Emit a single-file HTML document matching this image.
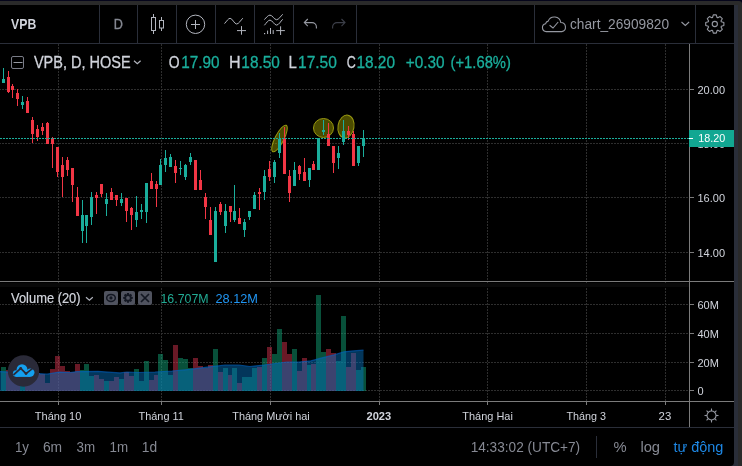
<!DOCTYPE html><html><head><meta charset="utf-8"><title>VPB chart</title><style>html,body{margin:0;padding:0;background:#05051a;width:742px;height:466px;overflow:hidden}svg{display:block}text{font-family:"Liberation Sans",Arial,sans-serif}</style></head><body>
<svg width="742" height="466" viewBox="0 0 742 466" shape-rendering="crispEdges">
<rect x="-10" y="1" width="752" height="475" rx="3" fill="#2a2a2a" shape-rendering="auto"/>
<rect x="0" y="5" width="738" height="461" fill="#2a2e39"/>
<path d="M0 5H734V462a4 4 0 0 1 -4 4H0Z" fill="#000" shape-rendering="auto"/>
<rect x="99" y="5" width="1" height="38" fill="#2a2e39"/>
<rect x="137" y="5" width="1" height="38" fill="#2a2e39"/>
<rect x="176" y="5" width="1" height="38" fill="#2a2e39"/>
<rect x="215" y="5" width="1" height="38" fill="#2a2e39"/>
<rect x="254" y="5" width="1" height="38" fill="#2a2e39"/>
<rect x="293" y="5" width="1" height="38" fill="#2a2e39"/>
<rect x="356" y="5" width="1" height="38" fill="#2a2e39"/>
<rect x="534" y="5" width="1" height="38" fill="#2a2e39"/>
<rect x="695" y="5" width="1" height="38" fill="#2a2e39"/>
<rect x="0" y="43" width="734" height="1" fill="#2a2e39"/>
<line x1="0" y1="89.5" x2="689" y2="89.5" stroke="#2e2e2e" stroke-dasharray="2 1" stroke-dashoffset="1"/>
<line x1="0" y1="143.5" x2="689" y2="143.5" stroke="#2e2e2e" stroke-dasharray="2 1" stroke-dashoffset="1"/>
<line x1="0" y1="197.5" x2="689" y2="197.5" stroke="#2e2e2e" stroke-dasharray="2 1" stroke-dashoffset="1"/>
<line x1="0" y1="252.5" x2="689" y2="252.5" stroke="#2e2e2e" stroke-dasharray="2 1" stroke-dashoffset="1"/>
<line x1="0" y1="304.5" x2="689" y2="304.5" stroke="#2e2e2e" stroke-dasharray="2 1" stroke-dashoffset="1"/>
<line x1="0" y1="333.5" x2="689" y2="333.5" stroke="#2e2e2e" stroke-dasharray="2 1" stroke-dashoffset="1"/>
<line x1="0" y1="362.5" x2="689" y2="362.5" stroke="#2e2e2e" stroke-dasharray="2 1" stroke-dashoffset="1"/>
<line x1="0" y1="390.5" x2="689" y2="390.5" stroke="#2e2e2e" stroke-dasharray="2 1" stroke-dashoffset="1"/>
<line x1="58.5" y1="44" x2="58.5" y2="281" stroke="#2e2e2e" stroke-dasharray="2 1"/>
<line x1="58.5" y1="282" x2="58.5" y2="401" stroke="#2e2e2e" stroke-dasharray="2 1"/>
<line x1="161.5" y1="44" x2="161.5" y2="281" stroke="#2e2e2e" stroke-dasharray="2 1"/>
<line x1="161.5" y1="282" x2="161.5" y2="401" stroke="#2e2e2e" stroke-dasharray="2 1"/>
<line x1="270.5" y1="44" x2="270.5" y2="281" stroke="#2e2e2e" stroke-dasharray="2 1"/>
<line x1="270.5" y1="282" x2="270.5" y2="401" stroke="#2e2e2e" stroke-dasharray="2 1"/>
<line x1="379.5" y1="44" x2="379.5" y2="281" stroke="#2e2e2e" stroke-dasharray="2 1"/>
<line x1="379.5" y1="282" x2="379.5" y2="401" stroke="#2e2e2e" stroke-dasharray="2 1"/>
<line x1="487.5" y1="44" x2="487.5" y2="281" stroke="#2e2e2e" stroke-dasharray="2 1"/>
<line x1="487.5" y1="282" x2="487.5" y2="401" stroke="#2e2e2e" stroke-dasharray="2 1"/>
<line x1="586.5" y1="44" x2="586.5" y2="281" stroke="#2e2e2e" stroke-dasharray="2 1"/>
<line x1="586.5" y1="282" x2="586.5" y2="401" stroke="#2e2e2e" stroke-dasharray="2 1"/>
<line x1="665.5" y1="44" x2="665.5" y2="281" stroke="#2e2e2e" stroke-dasharray="2 1"/>
<line x1="665.5" y1="282" x2="665.5" y2="401" stroke="#2e2e2e" stroke-dasharray="2 1"/>
<rect x="1" y="367" width="5" height="24" fill="rgba(16,160,116,0.5)"/>
<rect x="6" y="370" width="4" height="21" fill="rgba(210,50,76,0.5)"/>
<rect x="10" y="372" width="5" height="19" fill="rgba(210,50,76,0.5)"/>
<rect x="15" y="372" width="5" height="19" fill="rgba(210,50,76,0.5)"/>
<rect x="20" y="375" width="5" height="16" fill="rgba(16,160,116,0.5)"/>
<rect x="25" y="372" width="5" height="19" fill="rgba(210,50,76,0.5)"/>
<rect x="30" y="370" width="5" height="21" fill="rgba(210,50,76,0.5)"/>
<rect x="35" y="373" width="5" height="18" fill="rgba(210,50,76,0.5)"/>
<rect x="40" y="374" width="5" height="17" fill="rgba(210,50,76,0.5)"/>
<rect x="45" y="383" width="5" height="8" fill="rgba(210,50,76,0.5)"/>
<rect x="50" y="369" width="5" height="22" fill="rgba(210,50,76,0.5)"/>
<rect x="55" y="356" width="5" height="35" fill="rgba(210,50,76,0.5)"/>
<rect x="60" y="366" width="5" height="25" fill="rgba(210,50,76,0.5)"/>
<rect x="65" y="371" width="5" height="20" fill="rgba(210,50,76,0.5)"/>
<rect x="70" y="372" width="5" height="19" fill="rgba(210,50,76,0.5)"/>
<rect x="75" y="364" width="5" height="27" fill="rgba(210,50,76,0.5)"/>
<rect x="80" y="370" width="4" height="21" fill="rgba(16,160,116,0.5)"/>
<rect x="84" y="364" width="5" height="27" fill="rgba(16,160,116,0.5)"/>
<rect x="89" y="376" width="5" height="15" fill="rgba(16,160,116,0.5)"/>
<rect x="94" y="375" width="5" height="16" fill="rgba(210,50,76,0.5)"/>
<rect x="99" y="379" width="5" height="12" fill="rgba(210,50,76,0.5)"/>
<rect x="104" y="381" width="5" height="10" fill="rgba(16,160,116,0.5)"/>
<rect x="109" y="381" width="5" height="10" fill="rgba(210,50,76,0.5)"/>
<rect x="114" y="377" width="5" height="14" fill="rgba(210,50,76,0.5)"/>
<rect x="119" y="379" width="5" height="12" fill="rgba(16,160,116,0.5)"/>
<rect x="124" y="372" width="5" height="19" fill="rgba(210,50,76,0.5)"/>
<rect x="129" y="376" width="5" height="15" fill="rgba(210,50,76,0.5)"/>
<rect x="134" y="369" width="5" height="22" fill="rgba(16,160,116,0.5)"/>
<rect x="139" y="381" width="5" height="10" fill="rgba(16,160,116,0.5)"/>
<rect x="144" y="361" width="5" height="30" fill="rgba(16,160,116,0.5)"/>
<rect x="149" y="380" width="5" height="11" fill="rgba(210,50,76,0.5)"/>
<rect x="154" y="375" width="4" height="16" fill="rgba(210,50,76,0.5)"/>
<rect x="158" y="354" width="5" height="37" fill="rgba(16,160,116,0.5)"/>
<rect x="163" y="360" width="5" height="31" fill="rgba(16,160,116,0.5)"/>
<rect x="168" y="375" width="5" height="16" fill="rgba(16,160,116,0.5)"/>
<rect x="173" y="345" width="5" height="46" fill="rgba(210,50,76,0.5)"/>
<rect x="178" y="358" width="5" height="33" fill="rgba(16,160,116,0.5)"/>
<rect x="183" y="359" width="5" height="32" fill="rgba(16,160,116,0.5)"/>
<rect x="188" y="368" width="5" height="23" fill="rgba(16,160,116,0.5)"/>
<rect x="193" y="358" width="5" height="33" fill="rgba(210,50,76,0.5)"/>
<rect x="198" y="366" width="5" height="25" fill="rgba(210,50,76,0.5)"/>
<rect x="203" y="368" width="5" height="23" fill="rgba(210,50,76,0.5)"/>
<rect x="208" y="365" width="5" height="26" fill="rgba(210,50,76,0.5)"/>
<rect x="213" y="349" width="5" height="42" fill="rgba(16,160,116,0.5)"/>
<rect x="218" y="372" width="5" height="19" fill="rgba(210,50,76,0.5)"/>
<rect x="223" y="368" width="5" height="23" fill="rgba(16,160,116,0.5)"/>
<rect x="228" y="375" width="4" height="16" fill="rgba(210,50,76,0.5)"/>
<rect x="232" y="368" width="5" height="23" fill="rgba(16,160,116,0.5)"/>
<rect x="237" y="383" width="5" height="8" fill="rgba(210,50,76,0.5)"/>
<rect x="242" y="377" width="5" height="14" fill="rgba(16,160,116,0.5)"/>
<rect x="247" y="377" width="5" height="14" fill="rgba(16,160,116,0.5)"/>
<rect x="252" y="368" width="5" height="23" fill="rgba(16,160,116,0.5)"/>
<rect x="257" y="367" width="5" height="24" fill="rgba(210,50,76,0.5)"/>
<rect x="262" y="358" width="5" height="33" fill="rgba(16,160,116,0.5)"/>
<rect x="267" y="347" width="5" height="44" fill="rgba(210,50,76,0.5)"/>
<rect x="272" y="354" width="5" height="37" fill="rgba(16,160,116,0.5)"/>
<rect x="277" y="329" width="5" height="62" fill="rgba(16,160,116,0.5)"/>
<rect x="282" y="342" width="5" height="49" fill="rgba(210,50,76,0.5)"/>
<rect x="287" y="354" width="5" height="37" fill="rgba(210,50,76,0.5)"/>
<rect x="292" y="349" width="5" height="42" fill="rgba(16,160,116,0.5)"/>
<rect x="297" y="371" width="5" height="20" fill="rgba(210,50,76,0.5)"/>
<rect x="302" y="358" width="5" height="33" fill="rgba(210,50,76,0.5)"/>
<rect x="307" y="365" width="4" height="26" fill="rgba(16,160,116,0.5)"/>
<rect x="311" y="364" width="5" height="27" fill="rgba(210,50,76,0.5)"/>
<rect x="316" y="295" width="5" height="96" fill="rgba(16,160,116,0.5)"/>
<rect x="321" y="352" width="5" height="39" fill="rgba(16,160,116,0.5)"/>
<rect x="326" y="349" width="5" height="42" fill="rgba(210,50,76,0.5)"/>
<rect x="331" y="353" width="5" height="38" fill="rgba(210,50,76,0.5)"/>
<rect x="336" y="361" width="5" height="30" fill="rgba(16,160,116,0.5)"/>
<rect x="341" y="316" width="5" height="75" fill="rgba(16,160,116,0.5)"/>
<rect x="346" y="367" width="5" height="24" fill="rgba(210,50,76,0.5)"/>
<rect x="351" y="353" width="5" height="38" fill="rgba(210,50,76,0.5)"/>
<rect x="356" y="370" width="5" height="21" fill="rgba(16,160,116,0.5)"/>
<rect x="361" y="367" width="5" height="24" fill="rgba(16,160,116,0.5)"/>
<polygon points="0,391 0,371.6 35,373.3 47,374.2 59,372.1 70,372.5 77,371.6 98,371.3 112,372.4 120,372.9 127,372 138,372.5 155,372 172,371 190,369.4 207,367.1 218,365.9 225,365 239,365 250,366.5 264,365 287,362 299,362 311,360.8 320,358.4 334,354.9 344,351.8 353,350.9 363.5,350.2 363.5,391" fill="rgba(7,118,199,0.457)" shape-rendering="auto"/>
<polyline points="0,371.6 35,373.3 47,374.2 59,372.1 70,372.5 77,371.6 98,371.3 112,372.4 120,372.9 127,372 138,372.5 155,372 172,371 190,369.4 207,367.1 218,365.9 225,365 239,365 250,366.5 264,365 287,362 299,362 311,360.8 320,358.4 334,354.9 344,351.8 353,350.9 363.5,350.2" fill="none" stroke="rgba(0,100,200,0.6)" stroke-width="1.2" shape-rendering="auto"/>
<g shape-rendering="auto" fill="rgba(190,190,0,0.4)" stroke="#9a9a10" stroke-width="1">
<ellipse cx="279.5" cy="138.5" rx="4.4" ry="14.8" transform="rotate(27 279.5 138.5)"/>
<ellipse cx="323.5" cy="128" rx="10" ry="9.5"/>
<ellipse cx="346" cy="126.5" rx="8" ry="11.5" transform="rotate(10 346 126.5)"/>
</g>
<rect x="3" y="67.9" width="1" height="14.8" fill="#1aae9c"/>
<rect x="2" y="78.8" width="3" height="3.9" fill="#1aae9c"/>
<rect x="8" y="71.1" width="1" height="21.7" fill="#f23645"/>
<rect x="7" y="76.9" width="3" height="15.4" fill="#f23645"/>
<rect x="12" y="84.0" width="1" height="13.7" fill="#f23645"/>
<rect x="11" y="85.9" width="3" height="4.1" fill="#f23645"/>
<rect x="17" y="89.1" width="1" height="16.7" fill="#f23645"/>
<rect x="16" y="93.0" width="3" height="5.8" fill="#f23645"/>
<rect x="22" y="95.9" width="1" height="12.9" fill="#1aae9c"/>
<rect x="21" y="102.0" width="3" height="3.0" fill="#1aae9c"/>
<rect x="27" y="96.8" width="1" height="16.2" fill="#f23645"/>
<rect x="26" y="100.7" width="3" height="12.2" fill="#f23645"/>
<rect x="32" y="116.9" width="1" height="25.7" fill="#f23645"/>
<rect x="31" y="120.0" width="3" height="14.0" fill="#f23645"/>
<rect x="37" y="125.0" width="1" height="15.5" fill="#f23645"/>
<rect x="36" y="129.0" width="3" height="8.3" fill="#f23645"/>
<rect x="42" y="123.1" width="1" height="11.9" fill="#f23645"/>
<rect x="41" y="126.9" width="3" height="3.9" fill="#f23645"/>
<rect x="47" y="122.0" width="1" height="21.6" fill="#f23645"/>
<rect x="46" y="122.6" width="3" height="21.0" fill="#f23645"/>
<rect x="52" y="137.3" width="1" height="30.7" fill="#f23645"/>
<rect x="51" y="138.3" width="3" height="5.6" fill="#f23645"/>
<rect x="57" y="146.6" width="1" height="30.1" fill="#f23645"/>
<rect x="56" y="146.6" width="3" height="25.0" fill="#f23645"/>
<rect x="62" y="156.5" width="1" height="40.5" fill="#f23645"/>
<rect x="61" y="165.0" width="3" height="11.7" fill="#f23645"/>
<rect x="67" y="157.4" width="1" height="18.6" fill="#f23645"/>
<rect x="66" y="159.5" width="3" height="10.5" fill="#f23645"/>
<rect x="72" y="168.0" width="1" height="33.6" fill="#f23645"/>
<rect x="71" y="168.0" width="3" height="16.5" fill="#f23645"/>
<rect x="77" y="186.9" width="1" height="29.0" fill="#f23645"/>
<rect x="76" y="197.2" width="3" height="18.7" fill="#f23645"/>
<rect x="82" y="200.2" width="1" height="42.7" fill="#1aae9c"/>
<rect x="81" y="215.2" width="3" height="15.5" fill="#1aae9c"/>
<rect x="86" y="215.2" width="1" height="27.7" fill="#1aae9c"/>
<rect x="85" y="215.2" width="3" height="10.3" fill="#1aae9c"/>
<rect x="91" y="192.1" width="1" height="32.8" fill="#1aae9c"/>
<rect x="90" y="197.2" width="3" height="19.3" fill="#1aae9c"/>
<rect x="96" y="191.7" width="1" height="21.9" fill="#f23645"/>
<rect x="95" y="195.0" width="3" height="2.7" fill="#f23645"/>
<rect x="101" y="183.6" width="1" height="13.4" fill="#f23645"/>
<rect x="100" y="183.6" width="3" height="9.9" fill="#f23645"/>
<rect x="106" y="192.9" width="1" height="22.8" fill="#1aae9c"/>
<rect x="105" y="199.2" width="3" height="4.9" fill="#1aae9c"/>
<rect x="111" y="188.0" width="1" height="11.5" fill="#f23645"/>
<rect x="110" y="191.7" width="3" height="7.8" fill="#f23645"/>
<rect x="116" y="195.0" width="1" height="11.0" fill="#f23645"/>
<rect x="115" y="195.0" width="3" height="4.5" fill="#f23645"/>
<rect x="121" y="193.0" width="1" height="12.5" fill="#1aae9c"/>
<rect x="120" y="198.6" width="3" height="4.4" fill="#1aae9c"/>
<rect x="126" y="197.7" width="1" height="24.0" fill="#f23645"/>
<rect x="125" y="197.7" width="3" height="12.9" fill="#f23645"/>
<rect x="131" y="206.6" width="1" height="23.1" fill="#f23645"/>
<rect x="130" y="208.0" width="3" height="6.7" fill="#f23645"/>
<rect x="136" y="196.0" width="1" height="30.7" fill="#1aae9c"/>
<rect x="135" y="211.7" width="3" height="7.8" fill="#1aae9c"/>
<rect x="141" y="203.6" width="1" height="15.0" fill="#1aae9c"/>
<rect x="140" y="209.6" width="3" height="2.1" fill="#1aae9c"/>
<rect x="146" y="183.3" width="1" height="39.8" fill="#1aae9c"/>
<rect x="145" y="183.3" width="3" height="28.6" fill="#1aae9c"/>
<rect x="151" y="173.0" width="1" height="15.6" fill="#f23645"/>
<rect x="150" y="181.0" width="3" height="7.6" fill="#f23645"/>
<rect x="156" y="181.0" width="1" height="25.6" fill="#f23645"/>
<rect x="155" y="184.0" width="3" height="4.6" fill="#f23645"/>
<rect x="160" y="158.5" width="1" height="26.1" fill="#1aae9c"/>
<rect x="159" y="165.4" width="3" height="19.2" fill="#1aae9c"/>
<rect x="165" y="149.5" width="1" height="22.5" fill="#1aae9c"/>
<rect x="164" y="157.6" width="3" height="7.8" fill="#1aae9c"/>
<rect x="170" y="154.0" width="1" height="12.6" fill="#1aae9c"/>
<rect x="169" y="157.0" width="3" height="9.6" fill="#1aae9c"/>
<rect x="175" y="160.0" width="1" height="22.5" fill="#f23645"/>
<rect x="174" y="166.0" width="3" height="6.6" fill="#f23645"/>
<rect x="180" y="161.0" width="1" height="14.0" fill="#1aae9c"/>
<rect x="179" y="167.5" width="3" height="1.5" fill="#1aae9c"/>
<rect x="185" y="163.6" width="1" height="15.9" fill="#1aae9c"/>
<rect x="184" y="164.5" width="3" height="12.9" fill="#1aae9c"/>
<rect x="190" y="152.5" width="1" height="12.0" fill="#1aae9c"/>
<rect x="189" y="157.0" width="3" height="4.5" fill="#1aae9c"/>
<rect x="195" y="160.0" width="1" height="29.5" fill="#f23645"/>
<rect x="194" y="160.0" width="3" height="29.5" fill="#f23645"/>
<rect x="200" y="170.0" width="1" height="20.0" fill="#f23645"/>
<rect x="199" y="179.5" width="3" height="10.5" fill="#f23645"/>
<rect x="205" y="193.0" width="1" height="25.6" fill="#f23645"/>
<rect x="204" y="196.7" width="3" height="9.9" fill="#f23645"/>
<rect x="210" y="206.6" width="1" height="27.9" fill="#f23645"/>
<rect x="209" y="219.5" width="3" height="15.0" fill="#f23645"/>
<rect x="215" y="206.6" width="1" height="54.9" fill="#1aae9c"/>
<rect x="214" y="210.5" width="3" height="51.0" fill="#1aae9c"/>
<rect x="220" y="202.0" width="1" height="12.6" fill="#f23645"/>
<rect x="219" y="204.0" width="3" height="7.6" fill="#f23645"/>
<rect x="225" y="203.7" width="1" height="29.3" fill="#1aae9c"/>
<rect x="224" y="210.6" width="3" height="15.0" fill="#1aae9c"/>
<rect x="230" y="205.5" width="1" height="16.2" fill="#f23645"/>
<rect x="229" y="206.0" width="3" height="5.5" fill="#f23645"/>
<rect x="234" y="185.0" width="1" height="36.7" fill="#1aae9c"/>
<rect x="233" y="210.6" width="3" height="9.0" fill="#1aae9c"/>
<rect x="239" y="207.6" width="1" height="16.4" fill="#f23645"/>
<rect x="238" y="217.5" width="3" height="6.5" fill="#f23645"/>
<rect x="244" y="218.7" width="1" height="18.0" fill="#1aae9c"/>
<rect x="243" y="221.7" width="3" height="7.8" fill="#1aae9c"/>
<rect x="249" y="210.9" width="1" height="8.9" fill="#1aae9c"/>
<rect x="248" y="210.9" width="3" height="5.7" fill="#1aae9c"/>
<rect x="254" y="191.7" width="1" height="16.8" fill="#1aae9c"/>
<rect x="253" y="194.7" width="3" height="13.8" fill="#1aae9c"/>
<rect x="259" y="188.0" width="1" height="21.7" fill="#f23645"/>
<rect x="258" y="192.2" width="3" height="1.5" fill="#f23645"/>
<rect x="264" y="170.0" width="1" height="29.5" fill="#1aae9c"/>
<rect x="263" y="176.0" width="3" height="15.7" fill="#1aae9c"/>
<rect x="269" y="160.5" width="1" height="20.1" fill="#f23645"/>
<rect x="268" y="168.5" width="3" height="8.2" fill="#f23645"/>
<rect x="274" y="160.0" width="1" height="23.0" fill="#1aae9c"/>
<rect x="273" y="161.8" width="3" height="15.1" fill="#1aae9c"/>
<rect x="279" y="132.9" width="1" height="25.1" fill="#1aae9c"/>
<rect x="278" y="138.6" width="3" height="14.4" fill="#1aae9c"/>
<rect x="284" y="126.5" width="1" height="47.2" fill="#f23645"/>
<rect x="283" y="138.5" width="3" height="35.2" fill="#f23645"/>
<rect x="289" y="170.1" width="1" height="31.9" fill="#f23645"/>
<rect x="288" y="176.0" width="3" height="16.7" fill="#f23645"/>
<rect x="294" y="161.6" width="1" height="24.1" fill="#1aae9c"/>
<rect x="293" y="170.0" width="3" height="15.7" fill="#1aae9c"/>
<rect x="299" y="165.0" width="1" height="15.0" fill="#f23645"/>
<rect x="298" y="166.0" width="3" height="7.7" fill="#f23645"/>
<rect x="304" y="157.6" width="1" height="22.9" fill="#f23645"/>
<rect x="303" y="172.0" width="3" height="8.5" fill="#f23645"/>
<rect x="309" y="168.0" width="1" height="18.8" fill="#1aae9c"/>
<rect x="308" y="168.0" width="3" height="11.5" fill="#1aae9c"/>
<rect x="313" y="160.9" width="1" height="9.1" fill="#f23645"/>
<rect x="312" y="163.9" width="3" height="6.1" fill="#f23645"/>
<rect x="318" y="138.3" width="1" height="31.7" fill="#1aae9c"/>
<rect x="317" y="138.3" width="3" height="31.7" fill="#1aae9c"/>
<rect x="323" y="120.0" width="1" height="15.0" fill="#1aae9c"/>
<rect x="322" y="130.3" width="3" height="1.5" fill="#1aae9c"/>
<rect x="328" y="123.2" width="1" height="22.6" fill="#f23645"/>
<rect x="327" y="134.0" width="3" height="11.8" fill="#f23645"/>
<rect x="333" y="146.2" width="1" height="26.4" fill="#f23645"/>
<rect x="332" y="146.2" width="3" height="16.8" fill="#f23645"/>
<rect x="338" y="146.2" width="1" height="23.2" fill="#1aae9c"/>
<rect x="337" y="153.3" width="3" height="4.3" fill="#1aae9c"/>
<rect x="343" y="120.0" width="1" height="24.8" fill="#1aae9c"/>
<rect x="342" y="131.3" width="3" height="11.0" fill="#1aae9c"/>
<rect x="348" y="126.0" width="1" height="14.4" fill="#f23645"/>
<rect x="347" y="131.2" width="3" height="3.8" fill="#f23645"/>
<rect x="353" y="130.7" width="1" height="34.8" fill="#f23645"/>
<rect x="352" y="134.0" width="3" height="31.5" fill="#f23645"/>
<rect x="358" y="146.2" width="1" height="19.3" fill="#1aae9c"/>
<rect x="357" y="146.2" width="3" height="16.3" fill="#1aae9c"/>
<rect x="363" y="130.0" width="1" height="27.0" fill="#1aae9c"/>
<rect x="362" y="138.0" width="3" height="8.1" fill="#1aae9c"/>
<line x1="0" y1="138.5" x2="689" y2="138.5" stroke="#1aae9c" stroke-dasharray="2 1"/>
<rect x="0" y="283" width="689" height="4" fill="#090909"/>
<rect x="689" y="44" width="1" height="383" fill="#7b7b7b"/>
<rect x="0" y="281" width="734" height="1" fill="#7b7b7b"/>
<rect x="0" y="401" width="734" height="1" fill="#7b7b7b"/>
<rect x="0" y="427" width="734" height="1" fill="#2a2e39"/>
<rect x="58" y="402" width="1" height="3" fill="#7b7b7b"/>
<rect x="161" y="402" width="1" height="3" fill="#7b7b7b"/>
<rect x="270" y="402" width="1" height="3" fill="#7b7b7b"/>
<rect x="379" y="402" width="1" height="3" fill="#7b7b7b"/>
<rect x="487" y="402" width="1" height="3" fill="#7b7b7b"/>
<rect x="586" y="402" width="1" height="3" fill="#7b7b7b"/>
<rect x="665" y="402" width="1" height="3" fill="#7b7b7b"/>
<rect x="690" y="89" width="4" height="1" fill="#7b7b7b"/>
<text x="697.5" y="93.8" font-size="11" fill="#d1d4dc">20.00</text>
<rect x="690" y="143" width="4" height="1" fill="#7b7b7b"/>
<text x="697.5" y="147.8" font-size="11" fill="#d1d4dc">18.00</text>
<rect x="690" y="197" width="4" height="1" fill="#7b7b7b"/>
<text x="697.5" y="201.8" font-size="11" fill="#d1d4dc">16.00</text>
<rect x="690" y="252" width="4" height="1" fill="#7b7b7b"/>
<text x="697.5" y="256.8" font-size="11" fill="#d1d4dc">14.00</text>
<rect x="690" y="304" width="4" height="1" fill="#7b7b7b"/>
<text x="697.5" y="308.8" font-size="11" fill="#d1d4dc">60M</text>
<rect x="690" y="333" width="4" height="1" fill="#7b7b7b"/>
<text x="697.5" y="337.8" font-size="11" fill="#d1d4dc">40M</text>
<rect x="690" y="362" width="4" height="1" fill="#7b7b7b"/>
<text x="697.5" y="366.8" font-size="11" fill="#d1d4dc">20M</text>
<rect x="690" y="390" width="4" height="1" fill="#7b7b7b"/>
<text x="697.5" y="394.8" font-size="11" fill="#d1d4dc">0</text>
<rect x="689" y="130" width="45" height="17" fill="#12a792"/>
<rect x="689" y="138" width="4" height="1" fill="#fff"/>
<text x="698.28" y="141.6" font-size="11" fill="#fff" textLength="26.94" lengthAdjust="spacingAndGlyphs">18.20</text>
<text x="34.85" y="420" font-size="11" fill="#d1d4dc" textLength="46.48" lengthAdjust="spacingAndGlyphs">Tháng 10</text>
<text x="138.56" y="420" font-size="11" fill="#d1d4dc" textLength="45.26" lengthAdjust="spacingAndGlyphs">Tháng 11</text>
<text x="232.26" y="420" font-size="11" fill="#d1d4dc" textLength="77.48" lengthAdjust="spacingAndGlyphs">Tháng Mười hai</text>
<text x="366.52" y="420" font-size="11" fill="#d1d4dc" font-weight="bold" textLength="24.69" lengthAdjust="spacingAndGlyphs">2023</text>
<text x="462.25" y="420" font-size="11" fill="#d1d4dc" textLength="50.59" lengthAdjust="spacingAndGlyphs">Tháng Hai</text>
<text x="566.46" y="420" font-size="11" fill="#d1d4dc" textLength="39.52" lengthAdjust="spacingAndGlyphs">Tháng 3</text>
<text x="658.63" y="420" font-size="11" fill="#d1d4dc" textLength="12.67" lengthAdjust="spacingAndGlyphs">23</text>
<g transform="translate(711.5 415.5)" stroke="#9598a1" fill="none" stroke-width="1.1" shape-rendering="auto"><circle r="4.5"/>
<line x1="4.50" y1="0.00" x2="7.00" y2="0.00"/>
<line x1="3.18" y1="3.18" x2="4.95" y2="4.95"/>
<line x1="0.00" y1="4.50" x2="0.00" y2="7.00"/>
<line x1="-3.18" y1="3.18" x2="-4.95" y2="4.95"/>
<line x1="-4.50" y1="0.00" x2="-7.00" y2="0.00"/>
<line x1="-3.18" y1="-3.18" x2="-4.95" y2="-4.95"/>
<line x1="-0.00" y1="-4.50" x2="-0.00" y2="-7.00"/>
<line x1="3.18" y1="-3.18" x2="4.95" y2="-4.95"/>
</g>
<rect x="11.5" y="56.5" width="12" height="12" rx="1.5" fill="none" stroke="#787b86" shape-rendering="auto"/>
<rect x="13.5" y="62" width="9" height="1" fill="#9598a1" shape-rendering="auto"/>
<text x="33.94" y="68" font-size="16.8" fill="#d1d4dc" stroke="#d1d4dc" stroke-width="0.3" textLength="96.69" lengthAdjust="spacingAndGlyphs">VPB, D, HOSE</text>
<path d="M134 60.8l3.3 3 3.3-3" stroke="#b2b5be" fill="none" stroke-width="1.2" shape-rendering="auto"/>
<text x="168.74" y="68" font-size="16.8" fill="#d1d4dc" stroke="#d1d4dc" stroke-width="0.3" textLength="10.83" lengthAdjust="spacingAndGlyphs">O</text>
<text x="181.13" y="68" font-size="16.8" fill="#1aae9c" stroke="#1aae9c" stroke-width="0.3" textLength="38.37" lengthAdjust="spacingAndGlyphs">17.90</text>
<text x="228.88" y="68" font-size="16.8" fill="#d1d4dc" stroke="#d1d4dc" stroke-width="0.3" textLength="11.64" lengthAdjust="spacingAndGlyphs">H</text>
<text x="241.33" y="68" font-size="16.8" fill="#1aae9c" stroke="#1aae9c" stroke-width="0.3" textLength="38.47" lengthAdjust="spacingAndGlyphs">18.50</text>
<text x="288.47" y="68" font-size="16.8" fill="#d1d4dc" stroke="#d1d4dc" stroke-width="0.3" textLength="8.32" lengthAdjust="spacingAndGlyphs">L</text>
<text x="298.02" y="68" font-size="16.8" fill="#1aae9c" stroke="#1aae9c" stroke-width="0.3" textLength="38.89" lengthAdjust="spacingAndGlyphs">17.50</text>
<text x="346.67" y="68" font-size="16.8" fill="#d1d4dc" stroke="#d1d4dc" stroke-width="0.3" textLength="9.01" lengthAdjust="spacingAndGlyphs">C</text>
<text x="356.43" y="68" font-size="16.8" fill="#1aae9c" stroke="#1aae9c" stroke-width="0.3" textLength="38.58" lengthAdjust="spacingAndGlyphs">18.20</text>
<text x="405.75" y="68" font-size="16.8" fill="#1aae9c" stroke="#1aae9c" stroke-width="0.3" textLength="38.85" lengthAdjust="spacingAndGlyphs">+0.30</text>
<text x="450.58" y="68" font-size="16.8" fill="#1aae9c" stroke="#1aae9c" stroke-width="0.3" textLength="60.33" lengthAdjust="spacingAndGlyphs">(+1.68%)</text>
<text x="11.04" y="302.8" font-size="13.9" fill="#d1d4dc" stroke="#d1d4dc" stroke-width="0.2" textLength="69.55" lengthAdjust="spacingAndGlyphs">Volume (20)</text>
<path d="M86 297.3l3.4 3 3.4-3" stroke="#b2b5be" fill="none" stroke-width="1.2" shape-rendering="auto"/>
<rect x="104" y="291" width="14" height="14" rx="2" fill="#50535f" shape-rendering="auto"/>
<rect x="121" y="291" width="14" height="14" rx="2" fill="#50535f" shape-rendering="auto"/>
<rect x="138" y="291" width="14" height="14" rx="2" fill="#50535f" shape-rendering="auto"/>
<g shape-rendering="auto"><ellipse cx="111" cy="297.9" rx="4.3" ry="3.5" fill="none" stroke="#131722" stroke-width="1.5"/><circle cx="111" cy="297.9" r="1.6" fill="#131722"/>
<polygon points="131.01,296.55 132.80,296.93 132.80,298.87 131.01,299.25 131.08,299.08 132.08,300.61 130.71,301.98 129.18,300.98 129.35,300.91 128.97,302.70 127.03,302.70 126.65,300.91 126.82,300.98 125.29,301.98 123.92,300.61 124.92,299.08 124.99,299.25 123.20,298.87 123.20,296.93 124.99,296.55 124.92,296.72 123.92,295.19 125.29,293.82 126.82,294.82 126.65,294.89 127.03,293.10 128.97,293.10 129.35,294.89 129.18,294.82 130.71,293.82 132.08,295.19 131.08,296.72" fill="#131722" shape-rendering="auto"/><circle cx="128" cy="297.9" r="1.9" fill="#50535f" shape-rendering="auto"/>
<g shape-rendering="auto">
<path d="M141 294l8 8M149 294l-8 8" stroke="#131722" stroke-width="1.7"/></g>
<text x="160.46" y="302.7" font-size="12.9" fill="#22ab94" textLength="48.16" lengthAdjust="spacingAndGlyphs">16.707M</text>
<text x="215.46" y="302.7" font-size="12.9" fill="#2196f3" textLength="42.49" lengthAdjust="spacingAndGlyphs">28.12M</text>
<g shape-rendering="auto"><circle cx="23.5" cy="371" r="15.7" fill="#2a2a38"/>
<g fill="#14a0f0"><circle cx="16.2" cy="373.6" r="3.3"/><circle cx="22" cy="369.6" r="5.4"/><circle cx="30.3" cy="372.6" r="4.2"/><rect x="16.2" y="372" width="14.1" height="4.9"/></g>
<polyline points="13.4,375 20.7,368.4 26,373.6 33,368.2" stroke="#2a2a38" stroke-width="1.7" fill="none" stroke-linejoin="round"/>
<circle cx="20.7" cy="368.4" r="1.4" fill="#2a2a38"/><circle cx="26" cy="373.6" r="1.4" fill="#2a2a38"/>
</g>
<text x="11.12" y="29" font-size="14" fill="#d1d4dc" font-weight="bold" textLength="25.14" lengthAdjust="spacingAndGlyphs">VPB</text>
<text x="113.86" y="29" font-size="14.5" fill="#868993" stroke="#868993" stroke-width="0.35" textLength="9.14" lengthAdjust="spacingAndGlyphs">D</text>
<g stroke="#b2b5be" fill="none" stroke-width="1" shape-rendering="auto">
<path d="M153.5 14v3.5M153.5 30.5v3.5M161.5 17v3.5M161.5 28v3"/>
<rect x="151.5" y="17.5" width="4" height="13"/><rect x="159.5" y="20.5" width="4" height="7.5"/>
<circle cx="195.5" cy="24.3" r="9.2"/><path d="M191 24.5h9M195.5 20v9"/>
<path d="M224.5 23.6 C226.6 21.4 228.3 18.3 230.1 18.3 C232.4 18.3 234.3 24 236.6 24 C238.8 24 240.8 20.2 242.8 18.2"/><path d="M237 30.6h9M241.5 26.1v8.6"/>
<path d="M264.4 19.6 C266.2 17.6 268.2 15.1 270 15.1 C272.3 15.1 274.3 19.7 276.5 19.7 C278.8 19.7 280.7 16.2 282.7 14.3"/><path d="M264.4 25.3 C266.2 23.1 268.2 20.1 270 20.1 C272.3 20.1 274.3 25.1 276.5 25.1 C278.8 25.1 280.7 21.2 282.7 19.3"/>
<path d="M267.6 30.6v3.4M270.5 28v6M273.2 30.1v3.9M276.2 30.6h8.7M280.6 26.3v8.7"/>
</g><rect x="264" y="33" width="1.2" height="1.2" fill="#b2b5be"/>
<g fill="none" stroke-width="1.1" shape-rendering="auto">
<path d="M307.8 19 L304.3 22.6 L307.8 26.2 M304.3 22.6 H312 a4.4 4.4 0 0 1 4.4 4.4 V28.5" stroke="#9598a1"/>
<path d="M341.5 19 L345 22.6 L341.5 26.2 M345 22.6 H337 a4.4 4.4 0 0 0 -4.4 4.4 V28.5" stroke="#3c3f49"/>
</g>
<g fill="none" stroke="#9598a1" stroke-width="1.1" shape-rendering="auto">
<path d="M546.2 31.6 a4 4 0 0 1 -0.6-7.9 a3.6 3.6 0 0 1 2.6-2.6 a6.6 6.6 0 0 1 12.6 1.4 a4.6 4.6 0 0 1 1 9.1 Z"/>
<path d="M549.6 25.3 L553 28 L558.2 22"/>
</g>
<text x="570.02" y="28.7" font-size="14" fill="#9598a1" textLength="99.02" lengthAdjust="spacingAndGlyphs">chart_26909820</text>
<path d="M681.5 22l3.8 3.5 3.8-3.5" stroke="#9598a1" fill="none" stroke-width="1.1" shape-rendering="auto"/>
<polygon points="712.54,17.48 713.31,14.92 716.29,14.92 717.06,17.48 717.25,17.55 717.44,17.63 717.63,17.71 717.81,17.79 720.16,16.52 722.28,18.64 721.01,20.99 721.09,21.17 721.17,21.36 721.25,21.55 721.32,21.74 723.88,22.51 723.88,25.49 721.32,26.26 721.25,26.45 721.17,26.64 721.09,26.83 721.01,27.01 722.28,29.36 720.16,31.48 717.81,30.21 717.63,30.29 717.44,30.37 717.25,30.45 717.06,30.52 716.29,33.08 713.31,33.08 712.54,30.52 712.35,30.45 712.16,30.37 711.97,30.29 711.79,30.21 709.44,31.48 707.32,29.36 708.59,27.01 708.51,26.83 708.43,26.64 708.35,26.45 708.28,26.26 705.72,25.49 705.72,22.51 708.28,21.74 708.35,21.55 708.43,21.36 708.51,21.17 708.59,20.99 707.32,18.64 709.44,16.52 711.79,17.79 711.97,17.71 712.16,17.63 712.35,17.55" fill="none" stroke="#9598a1" stroke-width="1.1" stroke-linejoin="round" shape-rendering="auto"/>
<circle cx="714.8" cy="24" r="2.6" fill="none" stroke="#9598a1" stroke-width="1.1" shape-rendering="auto"/>
<text x="14.89" y="452" font-size="14" fill="#868993" textLength="14.04" lengthAdjust="spacingAndGlyphs">1y</text>
<text x="42.90" y="452" font-size="14" fill="#868993" textLength="19.21" lengthAdjust="spacingAndGlyphs">6m</text>
<text x="76.59" y="452" font-size="14" fill="#868993" textLength="18.59" lengthAdjust="spacingAndGlyphs">3m</text>
<text x="109.48" y="452" font-size="14" fill="#868993" textLength="18.60" lengthAdjust="spacingAndGlyphs">1m</text>
<text x="141.85" y="452" font-size="14" fill="#868993" textLength="15.34" lengthAdjust="spacingAndGlyphs">1d</text>
<text x="470.66" y="452" font-size="14" fill="#868993" textLength="109.48" lengthAdjust="spacingAndGlyphs">14:33:02 (UTC+7)</text>
<rect x="596" y="436" width="1" height="22" fill="#2a2e39"/>
<text x="613.47" y="452" font-size="14.5" fill="#868993" textLength="13.15" lengthAdjust="spacingAndGlyphs">%</text>
<text x="640.41" y="452" font-size="14.5" fill="#868993" textLength="19.64" lengthAdjust="spacingAndGlyphs">log</text>
<text x="673.48" y="452" font-size="14.5" fill="#1e88e5" textLength="49.95" lengthAdjust="spacingAndGlyphs">tự động</text>
</svg></body></html>
